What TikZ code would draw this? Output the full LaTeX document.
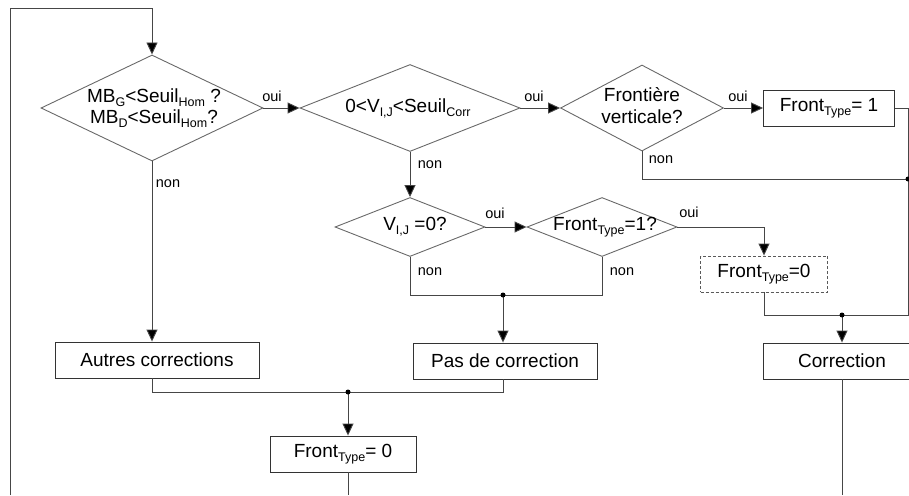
\documentclass[tikz,border=0pt]{standalone}
\usepackage{fontspec}
\setmainfont{Liberation Sans}
\usetikzlibrary{shapes.geometric,arrows.meta}
\newcommand{\lowtxt}[1]{\raisebox{-4pt}{\fontsize{12.5}{12.5}\selectfont #1}}
\definecolor{linec}{RGB}{70,70,70}
\definecolor{diac}{RGB}{105,105,105}
\begin{document}
\begin{tikzpicture}[x=1pt,y=-1pt,
  font=\fontsize{19}{23}\selectfont,
  conn/.style={draw=linec, line width=0.9pt},
  arr/.style={conn, -{Triangle[length=12pt,width=11pt,fill=black]}},
  dia/.style={diamond, draw=diac, line width=0.9pt, inner sep=0pt},
  box/.style={rectangle, draw=black!80, line width=0.9pt, inner sep=0pt, minimum height=36pt},
  dbox/.style={box, draw=black!65, dash pattern=on 3pt off 2pt},
  lbl/.style={font=\fontsize{14.5}{16}\selectfont, inner sep=0pt},
  jdot/.style={circle, fill=black, inner sep=0pt, minimum size=5pt},
  txt/.style={align=center, inner sep=0pt}]
\useasboundingbox (0,0) rectangle (909,495);
\clip (0,0) rectangle (909,495);

% decisions
\node[dia, minimum width=222pt, minimum height=106pt] (d1) at (152,108) {};
\node[txt] (t1) at (154,108) {MB\lowtxt{G}<Seuil\lowtxt{Hom} ?\\[-2pt]MB\lowtxt{D}<Seuil\lowtxt{Hom}?};
\node[dia, minimum width=220pt, minimum height=87pt] (d2) at (410,108) {};
\node[txt] (t2) at (408,108) {0<V\lowtxt{I,J}<Seuil\lowtxt{Corr}};
\node[dia, minimum width=163pt, minimum height=86pt] (d3) at (642,108) {};
\node[txt] (t3) at (642,106) {Frontière\\[-1pt]verticale?};
\node[dia, minimum width=150pt, minimum height=59pt] (d4) at (410,227) {};
\node[txt] (t4) at (415,227) {V\lowtxt{I,J} =0?};
\node[dia, minimum width=150pt, minimum height=59pt] (d5) at (602,227) {};
\node[txt] (t5) at (605,227) {Front\lowtxt{Type}=1?};

% boxes
\node[box, minimum width=131pt] (b1) at (829,108) {Front\lowtxt{Type}= 1};
\node[dbox, minimum width=127pt] (b2) at (764,274) {Front\lowtxt{Type}=0};
\node[box, minimum width=204pt] (autres) at (157,360) {Autres corrections};
\node[box, minimum width=184pt] (pas) at (505,361) {Pas de correction};
\node[box, minimum width=158pt] (corr) at (842,361) {Correction};
\node[box, minimum width=146pt] (fin) at (343,454) {Front\lowtxt{Type}= 0};

% junctions and free ends
\coordinate (j1) at (908,179);
\coordinate (j2) at (842,315);
\coordinate (j3) at (503,295);
\coordinate (j4) at (348,392);
\coordinate (lb) at (10,495);
\coordinate (tl) at (10,8);
\coordinate (fb) at (348,495);
\coordinate (cb) at (842,495);

% connectors
\draw[arr] (lb) -- (tl) -| (d1.north);
\draw[arr] (d1.east) -- (d2.west);
\draw[arr] (d2.east) -- (d3.west);
\draw[arr] (d3.east) -- (b1.west);
\draw[conn] (b1.east) -| (j1);
\draw[conn] (d3.south) |- (j1);
\draw[conn] (j1) |- (j2);
\draw[conn] (b2.south) |- (j2);
\draw[arr] (j2) -- (corr.north);
\draw[arr] (d2.south) -- (d4.north);
\draw[arr] (d4.east) -- (d5.west);
\draw[arr] (d5.east) -| (b2.north);
\draw[conn] (d4.south) |- (j3);
\draw[conn] (d5.south) |- (j3);
\draw[arr] (j3) -- (j3 |- pas.north);
\draw[arr] (d1.south) -- (d1.south |- autres.north);
\draw[conn] (d1.south |- autres.south) |- (j4);
\draw[conn] (j3 |- pas.south) |- (j4);
\draw[arr] (j4) -- (j4 |- fin.north);
\draw[conn] (j4 |- fin.south) -- (fb);
\draw[conn] (corr.south) -- (cb);

\node[jdot] (dj1) at (j1) {};
\node[jdot] (dj2) at (j2) {};
\node[jdot] (dj3) at (j3) {};
\node[jdot] (dj4) at (j4) {};

% labels
\node[lbl] (o1) at (272,96) {oui};
\node[lbl] (o2) at (534,96) {oui};
\node[lbl] (o3) at (738,96) {oui};
\node[lbl] (o4) at (495,213) {oui};
\node[lbl] (o5) at (689,212) {oui};
\node[lbl] (n1) at (168,184) {non};
\node[lbl] (n2) at (430,165) {non};
\node[lbl] (n3) at (661,160) {non};
\node[lbl] (n4) at (430,272) {non};
\node[lbl] (n5) at (622,272) {non};
\end{tikzpicture}
\end{document}
